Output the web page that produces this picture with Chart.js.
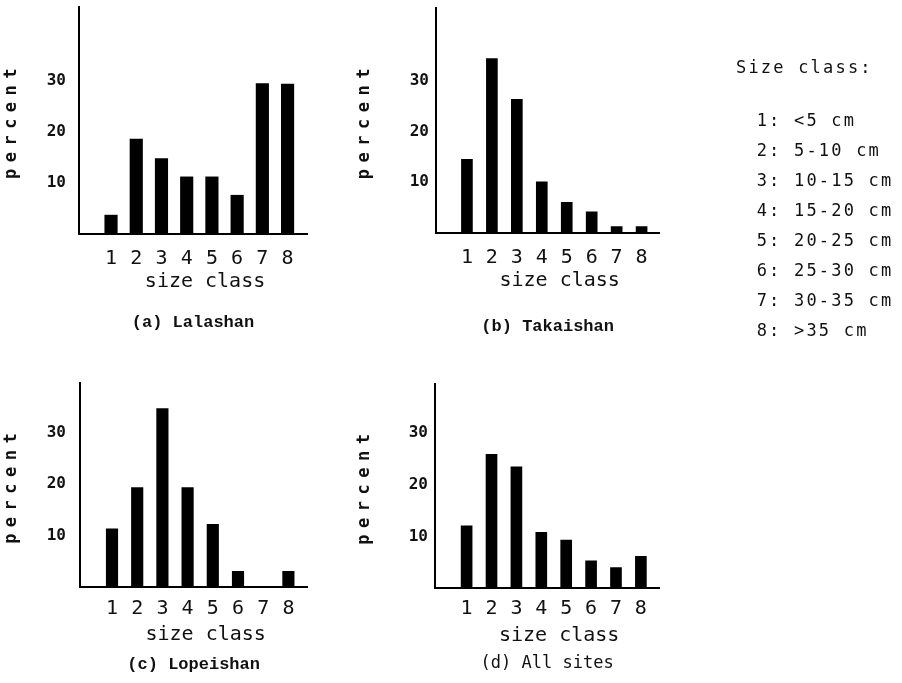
<!DOCTYPE html>
<html><head><meta charset="utf-8">
<script src="https://cdn.jsdelivr.net/npm/chart.js@4.4.1/dist/chart.umd.min.js"></script>
<style>
html,body{margin:0;padding:0;background:#fff;}
body{width:902px;height:683px;position:relative;overflow:hidden;}
canvas{position:absolute;}
#legend{position:absolute;left:0;top:0;width:902px;height:683px;font-family:"DejaVu Sans Mono",monospace;font-size:17px;letter-spacing:2.2px;color:#111;}
#legend div{position:absolute;white-space:pre;line-height:20px;}
</style></head><body>
<canvas id="pa" width="340" height="345" style="left:0px;top:0px"></canvas>
<canvas id="pb" width="340" height="345" style="left:350px;top:0px"></canvas>
<canvas id="pc" width="340" height="323" style="left:0px;top:360px"></canvas>
<canvas id="pd" width="340" height="323" style="left:350px;top:360px"></canvas>
<div id="legend"></div>
<script>
// ---- data ----
const categories = [1, 2, 3, 4, 5, 6, 7, 8];
const lalashan  = [3.7, 18.6, 14.8, 11.2, 11.2, 7.6, 29.5, 29.4];
const takaishan = [14.5, 34.3, 26.3, 10.1, 6.1, 4.2, 1.3, 1.3];
const lopeishan = [11.3, 19.3, 34.6, 19.3, 12.2, 3.1, 0, 3.1];
const allSites  = [12.1, 25.9, 23.5, 10.8, 9.3, 5.3, 4.0, 6.2];
const yTickValues = [10, 20, 30];
const xAxisTitle = 'size class';
const yAxisTitle = 'percent';
const captions = ['(a) Lalashan', '(b) Takaishan', '(c) Lopeishan', '(d) All sites'];
const legendTitle = 'Size class:';
const sizeClassRanges = ['<5 cm', '5-10 cm', '10-15 cm', '15-20 cm', '20-25 cm', '25-30 cm', '30-35 cm', '>35 cm'];

// ---- layout (positions/sizes, not data) ----
const panels = [
  {id:'pa', values: lalashan, caption: captions[0], w:340, h:345, aL:79, aT:7, aR:307, aB:234, yTX:12, tickY:259, xTY:282, capY:323, yMax:44.5, xMin:-0.27, xMax:8.77, bar:12.5, tickPad:13, capFont:"'Liberation Mono', monospace", capBold:'bold'},
  {id:'pb', values: takaishan, caption: captions[1], w:340, h:345, aL:86, aT:8, aR:309.3, aB:233.3, yTX:15, tickY:258, xTY:281, capY:327, yMax:44.2, xMin:-0.24, xMax:8.71, bar:11, tickPad:7, capFont:"'Liberation Mono', monospace", capBold:'bold'},
  {id:'pc', values: lopeishan, caption: captions[2], w:340, h:323, aL:80, aT:23.3, aR:307.3, aB:227.3, yTX:12, tickY:249, xTY:275, capY:305, yMax:39.5, xMin:-0.27, xMax:8.75, bar:11.5, tickPad:14, capFont:"'Liberation Mono', monospace", capBold:'bold'},
  {id:'pd', values: allSites, caption: captions[3], w:340, h:323, aL:85, aT:24, aR:309.3, aB:228.3, yTX:15, tickY:249, xTY:276, capY:304, yMax:39.5, xMin:-0.27, xMax:8.74, bar:11, tickPad:7, capFont:"'DejaVu Sans Mono', monospace", capBold:'normal'}
];

const MONO = "'DejaVu Sans Mono', monospace";
const spacingPlugin = {
  id: 'titleSpacing',
  beforeDraw(chart) {
    Object.values(chart.scales).forEach(s => {
      if (s._lsPatched) return;
      const orig = s.drawTitle;
      const sp = s.axis === 'y' ? '6.5px' : '0px';
      s.drawTitle = function () {
        const ctx = this.ctx;
        ctx.save();
        ctx.letterSpacing = sp;
        orig.call(this);
        ctx.restore();
      };
      s._lsPatched = true;
    });
  }
};

panels.forEach(g => {
  const capLH = 17 * 1.2;
  const xHeight = (g.capY - capLH / 2) - g.aB;
  const padBottom = g.h - (g.capY + capLH / 2);
  const xTickPad = g.tickY - g.aB - 12;
  const xTitlePadBottom = (g.capY - capLH / 2) - g.xTY - 12;
  const yTitleLH = 17 * 1.2;
  new Chart(document.getElementById(g.id), {
    type: 'bar',
    data: {
      datasets: [{
        data: categories.map((c, i) => ({x: c, y: g.values[i]})),
        backgroundColor: '#000',
        borderWidth: 0,
        barThickness: g.bar
      }]
    },
    options: {
      responsive: false,
      animation: false,
      devicePixelRatio: 1,
      layout: {padding: {left: 0, top: g.aT, right: g.w - g.aR, bottom: padBottom}},
      plugins: {
        legend: {display: false},
        tooltip: {enabled: false},
        title: {
          display: true,
          text: g.caption,
          position: 'bottom',
          fullSize: false,
          color: '#111',
          padding: {top: 0, bottom: 0},
          font: {family: g.capFont, size: 17, weight: g.capBold, lineHeight: 1.2}
        }
      },
      scales: {
        x: {
          type: 'linear',
          min: g.xMin,
          max: g.xMax,
          offset: false,
          grid: {display: false, offset: false, drawTicks: false},
          border: {display: true, color: '#000', width: 2},
          afterBuildTicks: axis => { axis.ticks = categories.map(v => ({value: v})); },
          afterFit: s => { s.height = xHeight; s.paddingLeft = 0; s.paddingRight = 0; s.paddingTop = 0; s.paddingBottom = 0; },
          ticks: {
            padding: xTickPad,
            color: '#111',
            maxRotation: 0,
            autoSkip: false,
            font: {family: MONO, size: 20, lineHeight: 1.2},
            callback: v => String(v)
          },
          title: {
            display: true,
            text: '  ' + xAxisTitle,
            color: '#111',
            padding: {top: 0, bottom: xTitlePadBottom},
            font: {family: MONO, size: 20, lineHeight: 1.2}
          }
        },
        y: {
          type: 'linear',
          min: 0,
          max: g.yMax,
          grid: {display: false, drawTicks: false},
          border: {display: true, color: '#000', width: 2},
          afterBuildTicks: axis => { axis.ticks = yTickValues.map(v => ({value: v})); },
          afterFit: s => { s.width = g.aL; s.paddingLeft = 0; s.paddingRight = 0; s.paddingTop = 0; s.paddingBottom = 0; },
          ticks: {
            padding: g.tickPad,
            color: '#111',
            font: {family: MONO, size: 16, weight: 'bold', lineHeight: 1.2},
            callback: v => String(v)
          },
          title: {
            display: true,
            text: yAxisTitle,
            color: '#111',
            padding: {top: g.yTX - yTitleLH / 2, bottom: 0},
            font: {family: MONO, size: 17, weight: 'bold', lineHeight: 1.2}
          }
        }
      }
    },
    plugins: [spacingPlugin]
  });
});

// ---- size class key ----
const legend = document.getElementById('legend');
const t = document.createElement('div');
t.textContent = legendTitle;
t.style.left = '736px';
t.style.top = (66.7 - 10) + 'px';
legend.appendChild(t);
categories.forEach((c, i) => {
  const d = document.createElement('div');
  d.textContent = c + ': ' + sizeClassRanges[i];
  d.style.left = '756.7px';
  d.style.top = (120 + 30 * i - 10) + 'px';
  legend.appendChild(d);
});
</script>
</body></html>
